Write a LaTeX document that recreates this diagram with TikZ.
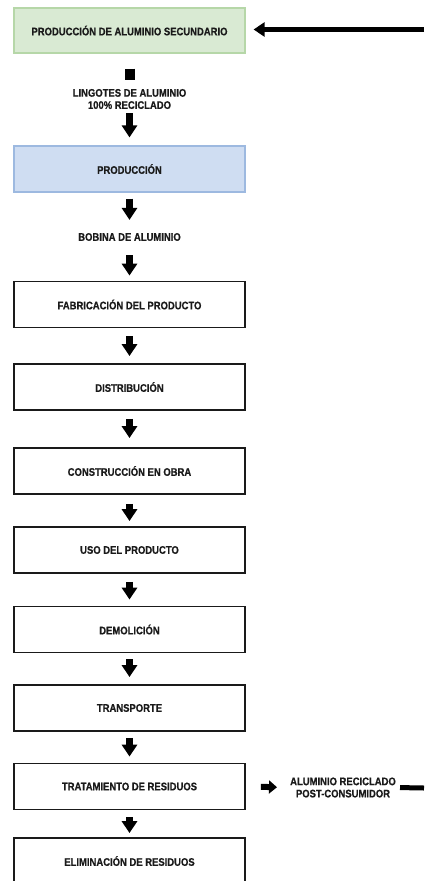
\documentclass[tikz,border=0pt]{standalone}
\usepackage{fontspec}
\newfontfamily\lblfont{Liberation Sans}[FakeStretch=0.86, BoldFeatures={FakeBold=0.6}]
\usetikzlibrary{arrows.meta}
\definecolor{boxgreen}{HTML}{D9EAD3}
\definecolor{edgegreen}{HTML}{B6D7A8}
\definecolor{boxblue}{HTML}{CFDDF2}
\definecolor{edgeblue}{HTML}{9DB9E0}
\definecolor{ink}{HTML}{1A1A1A}
\tikzset{
  lbl/.style={font=\lblfont\bfseries\fontsize{11}{12.2}\selectfont, text=ink, inner sep=0pt, align=center},
  stage/.style={lbl, draw=ink, line width=1.8pt, minimum width=231pt, minimum height=46pt},
  greenstage/.style={stage, fill=boxgreen, draw=edgegreen, line width=1.2pt, minimum height=45pt},
  bluestage/.style={stage, fill=boxblue, draw=edgeblue, line width=1.2pt},
  flow/.style={draw=black, line width=7pt, -{Triangle[width=15pt,length=12pt]}},
  sideflow/.style={draw=black, line width=6pt, -{Triangle[width=13pt,length=8pt]}},
  back/.style={draw=black, line width=5.5pt, -{Triangle[width=14pt,length=11pt]}},
  bar/.style={draw=black, line width=10pt},
  thinbar/.style={draw=black, line width=5pt}
}
\begin{document}
\begin{tikzpicture}[x=1pt,y=1pt]
  \useasboundingbox (0,0) rectangle (424,-881);
  \fill[white] (0,0) rectangle (424,-881);

  % main column
  \node[greenstage] (sec)  at (129.5,-30.5) {PRODUCCIÓN DE ALUMINIO SECUNDARIO};
  \node[lbl]        (ling) at (129.5,-99)   {LINGOTES DE ALUMINIO\\100\% RECICLADO};
  \node[bluestage]  (prod) at (129.5,-169)  {PRODUCCIÓN};
  \node[lbl]        (bob)  at (129.5,-237)  {BOBINA DE ALUMINIO};
  \node[stage]      (fab)  at (129.5,-304.5){FABRICACIÓN DEL PRODUCTO};
  \node[stage]      (dist) at (129.5,-387)  {DISTRIBUCIÓN};
  \node[stage]      (cons) at (129.5,-471)  {CONSTRUCCIÓN EN OBRA};
  \node[stage]      (uso)  at (129.5,-550)  {USO DEL PRODUCTO};
  \node[stage]      (dem)  at (129.5,-629.5){DEMOLICIÓN};
  \node[stage]      (tra)  at (129.5,-708)  {TRANSPORTE};
  \node[stage]      (res)  at (129.5,-786.5){TRATAMIENTO DE RESIDUOS};
  \node[stage]      (eli)  at (129.5,-861)  {ELIMINACIÓN DE RESIDUOS};

  % recycled output and return loop
  \node[lbl]        (post) at (343,-787.5)  {ALUMINIO RECICLADO\\POST-CONSUMIDOR};
  \coordinate (loopout) at (424,-788);
  \coordinate (loopin)  at (424,-29.5);

  % vertical flow
  \draw[bar, shorten <=15pt, shorten >=9pt]   (sec.south)  -- (ling.north);
  \draw[flow, shorten <=4pt,  shorten >=8pt]  (ling.south) -- (prod.north);
  \draw[flow, shorten <=6pt,  shorten >=13pt] (prod.south) -- (bob.north);
  \draw[flow, shorten <=14pt, shorten >=5pt]  (bob.south)  -- (fab.north);
  \draw[flow, shorten <=8pt,  shorten >=7pt]  (fab.south)  -- (dist.north);
  \draw[flow, shorten <=8pt,  shorten >=9pt]  (dist.south) -- (cons.north);
  \draw[flow, shorten <=9pt,  shorten >=5pt]  (cons.south) -- (uso.north);
  \draw[flow, shorten <=8pt,  shorten >=6pt]  (uso.south)  -- (dem.north);
  \draw[flow, shorten <=6pt,  shorten >=7pt]  (dem.south)  -- (tra.north);
  \draw[flow, shorten <=6pt,  shorten >=6pt]  (tra.south)  -- (res.north);
  \draw[flow, shorten <=7pt,  shorten >=4pt]  (res.south)  -- (eli.north);

  % side branch and return to secondary production
  \draw[sideflow, shorten <=15pt, shorten >=13pt] (res.east) -- (post.west);
  \draw[thinbar, shorten <=4pt] (post.east) -- (loopout);
  \draw[back, shorten >=8pt] (loopin) -- (loopin -| sec.east);
\end{tikzpicture}
\end{document}
